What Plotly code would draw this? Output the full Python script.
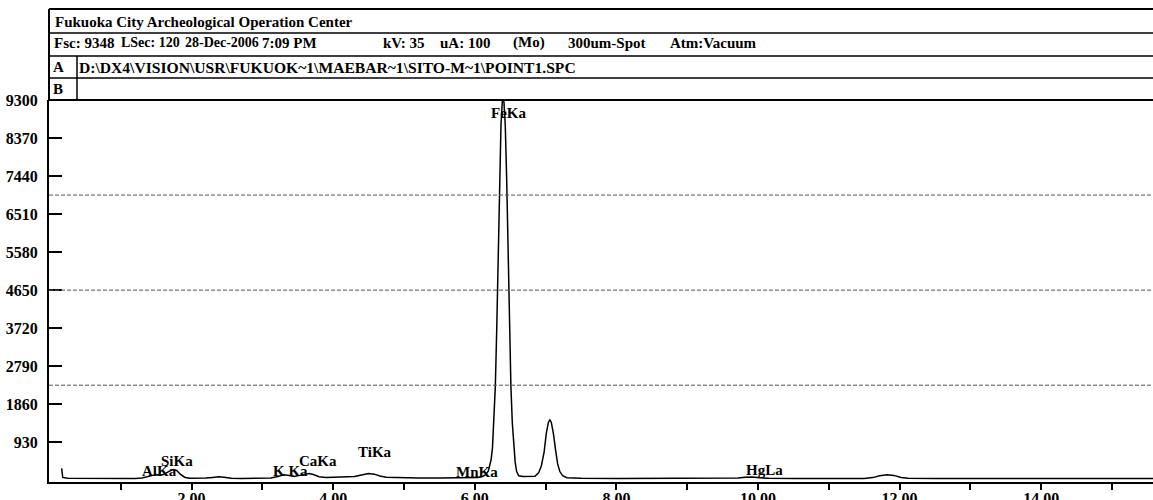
import plotly.graph_objects as go

# ---- data ----
energy_kev = [0.165, 0.18, 0.25, 0.6, 1.0, 1.2, 1.3, 1.38, 1.45, 1.5, 1.56, 1.62, 1.68, 1.74, 1.79,
              1.84, 1.9, 1.97, 2.1, 2.2, 2.3, 2.38, 2.46, 2.56, 2.7, 3.0, 3.12, 3.22, 3.3, 3.38,
              3.45, 3.53, 3.6, 3.66, 3.72, 3.8, 3.9, 4.0, 4.08, 4.18, 4.3, 4.4, 4.5, 4.58, 4.66,
              4.75, 4.9, 5.2, 5.5, 5.8, 5.95, 6.05,
              6.10, 6.15, 6.19, 6.21, 6.23, 6.25, 6.27, 6.29, 6.31, 6.33, 6.35, 6.37, 6.39, 6.40,
              6.41, 6.43, 6.45, 6.47, 6.49, 6.51, 6.53, 6.55, 6.57, 6.59, 6.62, 6.68, 6.78, 6.85,
              6.90, 6.94, 6.98, 7.01, 7.04, 7.06, 7.08, 7.11, 7.14, 7.17, 7.20, 7.24, 7.30, 7.5,
              8.0, 9.0, 9.6, 9.72, 9.82, 9.92, 10.02, 10.15, 10.5, 11.0, 11.5, 11.62, 11.72, 11.82,
              11.92, 12.02, 12.12, 12.5, 13.5, 14.5, 15.6]
counts = [290, 70, 48, 42, 40, 44, 55, 80, 120, 140, 125, 150, 220, 265, 240,
          150, 75, 52, 48, 55, 70, 85, 75, 52, 45, 45, 55, 95, 135, 115,
          95, 120, 150, 168, 140, 85, 70, 75, 80, 72, 90, 130, 168, 150, 105,
          75, 65, 58, 55, 55, 62, 70,
          85, 130, 220, 330, 500, 800, 1400, 2300, 3700, 5600, 7400, 8700, 9300, 9345,
          9300, 8700, 7400, 5600, 3700, 2300, 1400, 800, 450, 220, 110, 92, 90, 100,
          180, 350, 700, 1150, 1420, 1475, 1420, 1150, 750, 400, 220, 110, 62, 48,
          45, 45, 46, 55, 75, 80, 62, 48, 45, 45, 46, 65, 110, 135,
          120, 70, 50, 45, 44, 44, 43]

peak_labels = ["FeKa", "SiKa", "AlKa", "K Ka", "CaKa", "TiKa", "MnKa", "HgLa"]
peak_label_kev = [6.47, 1.79, 1.55, 3.39, 3.79, 4.59, 6.03, 10.09]
peak_label_counts = [8970, 472, 227, 227, 460, 692, 203, 252]

y_tick_vals = [930, 1860, 2790, 3720, 4650, 5580, 6510, 7440, 8370, 9300]
y_tick_text = ["930", "1860", "2790", "3720", "4650", "5580", "6510", "7440", "8370", "9300"]
x_tick_vals = [1, 2, 3, 4, 5, 6, 7, 8, 9, 10, 11, 12, 13, 14, 15]
x_tick_text = ["", "2.00", "", "4.00", "", "6.00", "", "8.00", "", "10.00", "", "12.00", "", "14.00", ""]

header_title = "Fukuoka City Archeological Operation Center"
header_info = ["Fsc: 9348", "LSec: 120", "28-Dec-2006", "7:09 PM", "kV: 35", "uA: 100",
               "(Mo)", "300um-Spot", "Atm:Vacuum"]
trace_a_path = "D:\\DX4\\VISION\\USR\\FUKUOK~1\\MAEBAR~1\\SITO-M~1\\POINT1.SPC"
full_scale = 9300

# ---- layout geometry (pixels) ----
W, H = 1153, 500
L, R, T, B = 49, 0, 100, 18
PW, PH = W - L - R, H - T - B
FONT = "Liberation Serif"


def px(xp):
    return (xp - L) / PW


def py(yp):
    return (H - B - yp) / PH


fig = go.Figure()
fig.add_trace(go.Scatter(x=energy_kev, y=counts, mode="lines",
                         line=dict(color="black", width=1.5), hoverinfo="skip",
                         showlegend=False, cliponaxis=True))

shapes = []
# dashed grid lines at quarter heights
for frac in (0.25, 0.5, 0.75):
    shapes.append(dict(type="line", xref="paper", yref="y", x0=0, x1=1,
                       y0=full_scale * frac, y1=full_scale * frac,
                       line=dict(color="#555", width=1, dash="4px,2px")))
# header box lines
for yp, w in ((9, 2), (33, 1.5), (56, 1.5), (78, 1.5), (100, 2)):
    shapes.append(dict(type="line", xref="paper", yref="paper", x0=px(49), x1=1,
                       y0=py(yp), y1=py(yp), line=dict(color="black", width=w)))
shapes.append(dict(type="line", xref="paper", yref="paper", x0=px(49), x1=px(49),
                   y0=py(9), y1=py(100), line=dict(color="black", width=2)))
shapes.append(dict(type="line", xref="paper", yref="paper", x0=px(77), x1=px(77),
                   y0=py(56), y1=py(100), line=dict(color="black", width=1.5)))


def hfont(size=15):
    return dict(family=FONT, size=size, color="black", weight="bold")


annotations = []


def header_text(text, xp, yp, size=15):
    annotations.append(dict(text=text, xref="paper", yref="paper", x=px(xp), y=py(yp),
                            xanchor="left", yanchor="middle", showarrow=False,
                            font=hfont(size)))


header_text(header_title, 53, 22)
info_x = [52, 119, 183, 260, 381, 438, 511, 566, 668]
info_size = [15, 14, 14, 15, 15, 15, 15, 15, 15]
for t, xp, s in zip(header_info, info_x, info_size):
    header_text(t, xp, 43, s)
header_text("A", 51, 67)
header_text(trace_a_path, 77, 67, 15.6)
header_text("B", 51, 89)

for lab, xv, yv in zip(peak_labels, peak_label_kev, peak_label_counts):
    annotations.append(dict(text=lab, x=xv, y=yv, xref="x", yref="y", showarrow=False,
                            xanchor="center", yanchor="middle", font=hfont(15)))

fig.update_layout(
    template="none",
    width=W, height=H, margin=dict(l=L, r=R, t=T, b=B, pad=0),
    paper_bgcolor="white", plot_bgcolor="white",
    shapes=shapes, annotations=annotations, showlegend=False,
    xaxis=dict(range=[-0.014, (W - 50) / 70.8], tickvals=x_tick_vals, ticktext=x_tick_text,
               ticks="outside", ticklen=6, tickwidth=1.5, tickcolor="black",
               showline=True, linecolor="black", linewidth=2, showgrid=False, zeroline=False,
               automargin=False, ticklabelstandoff=-5,
               tickfont=dict(family=FONT, size=16, color="black", weight="bold")),
    yaxis=dict(range=[-42, 9300], tickvals=y_tick_vals, ticktext=y_tick_text,
               ticks="inside", ticklen=13, tickwidth=1.5, tickcolor="black",
               showline=True, linecolor="black", linewidth=2, showgrid=False, zeroline=False,
               automargin=False, ticklabelstandoff=6,
               tickfont=dict(family=FONT, size=16, color="black", weight="bold")),
)

fig.write_html("out.html", config={"displayModeBar": False},
               post_script="document.body.style.margin='0';")
